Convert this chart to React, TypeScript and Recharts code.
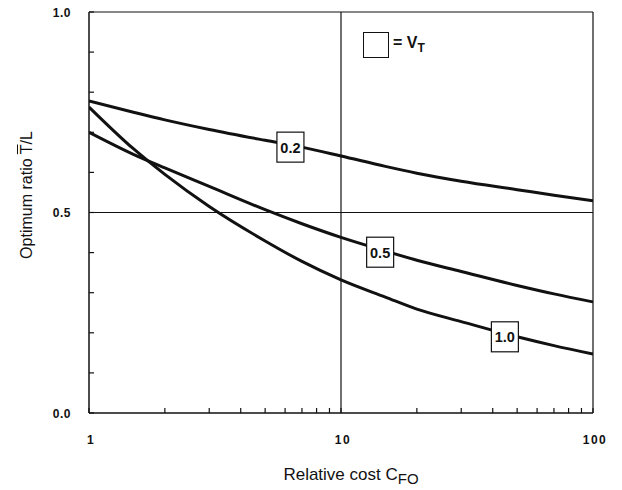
import {
  LineChart,
  Line,
  XAxis,
  YAxis,
  ReferenceLine,
  ReferenceDot,
} from "recharts";

// relative cost C_FO (log axis)
const costs = [1, 1.5, 2, 3, 5, 7, 10, 15, 20, 30, 50, 70, 100];

// optimum ratio T/L for each V_T
const vt02 = [0.778, 0.75, 0.731, 0.707, 0.68, 0.663, 0.641, 0.615, 0.598, 0.578, 0.557, 0.543, 0.529];
const vt05 = [0.7, 0.645, 0.611, 0.565, 0.507, 0.472, 0.438, 0.404, 0.381, 0.353, 0.318, 0.297, 0.277];
const vt10 = [0.763, 0.659, 0.595, 0.515, 0.429, 0.378, 0.332, 0.289, 0.259, 0.228, 0.19, 0.168, 0.147];

// curve label boxes
const boxText = ["0.2", "0.5", "1.0"];
const boxX = [6.3, 14.3, 44.7];
const boxY = [0.663, 0.401, 0.19];

const xTicks = [1, 2, 3, 4, 5, 6, 7, 8, 9, 10, 20, 30, 40, 50, 60, 70, 80, 90, 100];
const xLabels = [1, 10, 100];
const yTicks = [0, 0.1, 0.2, 0.3, 0.4, 0.5, 0.6, 0.7, 0.8, 0.9, 1];
const yLabels = [0, 0.5, 1];

const data = costs.map((c, i) => ({
  x: c,
  v02: vt02[i],
  v05: vt05[i],
  v10: vt10[i],
}));

const FONT = "'Liberation Sans', Arial, sans-serif";
const INK = "#111";

const XTick = (props: any) => {
  const { x, y, payload } = props;
  const v = payload.value;
  return (
    <g>
      <line x1={x} y1={y} x2={x} y2={y - 5} stroke={INK} strokeWidth={1.2} />
      {xLabels.includes(v) && (
        <text
          x={x + 2}
          y={y + 31}
          textAnchor="middle"
          fontFamily={FONT}
          fontWeight="bold"
          fontSize={12}
          letterSpacing={1.5}
          fill={INK}
        >
          {v}
        </text>
      )}
    </g>
  );
};

const YTick = (props: any) => {
  const { x, y, payload } = props;
  const v = payload.value;
  const show = yLabels.some((l) => Math.abs(l - v) < 1e-6);
  return (
    <g>
      <line x1={x} y1={y} x2={x + 5} y2={y} stroke={INK} strokeWidth={1.2} />
      {show && (
        <text
          x={x - 18}
          y={y + 4.5}
          textAnchor="end"
          fontFamily={FONT}
          fontWeight="bold"
          fontSize={12}
          letterSpacing={0.5}
          fill={INK}
        >
          {v.toFixed(1)}
        </text>
      )}
    </g>
  );
};

const labelBox = (text: string) => (props: any) => {
  const { cx, cy } = props;
  return (
    <g>
      <rect x={cx - 13.5} y={cy - 15} width={27} height={30} fill="#fff" stroke={INK} strokeWidth={1.2} />
      <text x={cx} y={cy + 5.5} textAnchor="middle" fontFamily={FONT} fontWeight="bold" fontSize={14.5} fill={INK}>
        {text}
      </text>
    </g>
  );
};

export default function App() {
  return (
    <div style={{ position: "relative", width: 622, height: 490, background: "#fff", fontFamily: FONT }}>
      <style>{"body{margin:0}"}</style>

      <LineChart width={622} height={490} data={data} margin={{ top: 12, right: 29, bottom: 0, left: 0 }}>
        <XAxis
          dataKey="x"
          type="number"
          scale="log"
          domain={[1, 100]}
          ticks={xTicks}
          interval={0}
          height={77}
          tickSize={0}
          tickMargin={0}
          tick={<XTick />}
          axisLine={{ stroke: INK, strokeWidth: 1.5 }}
          allowDataOverflow
        />
        <YAxis
          type="number"
          domain={[0, 1]}
          ticks={yTicks}
          interval={0}
          width={89}
          tickSize={0}
          tickMargin={0}
          tick={<YTick />}
          axisLine={{ stroke: INK, strokeWidth: 1.5 }}
        />

        {/* frame + grid at 10 and 0.5 */}
        <ReferenceLine y={1} stroke={INK} strokeWidth={1.2} />
        <ReferenceLine x={100} stroke={INK} strokeWidth={1.2} />
        <ReferenceLine x={10} stroke={INK} strokeWidth={1.2} />
        <ReferenceLine y={0.5} stroke={INK} strokeWidth={1.2} />

        <Line dataKey="v02" type="monotone" stroke={INK} strokeWidth={3} dot={false} isAnimationActive={false} />
        <Line dataKey="v05" type="monotone" stroke={INK} strokeWidth={3} dot={false} isAnimationActive={false} />
        <Line dataKey="v10" type="monotone" stroke={INK} strokeWidth={3} dot={false} isAnimationActive={false} />

        {boxText.map((t, i) => (
          <ReferenceDot key={t} x={boxX[i]} y={boxY[i]} r={1} shape={labelBox(t)} />
        ))}
      </LineChart>

      {/* legend */}
      <div style={{ position: "absolute", left: 363, top: 32, width: 24, height: 24, border: `1.5px solid ${INK}` }} />
      <div style={{ position: "absolute", left: 393, top: 33, fontSize: 16, fontWeight: "bold", color: INK, lineHeight: "20px" }}>
        = V<sub style={{ fontSize: 12, verticalAlign: -4 }}>T</sub>
      </div>

      {/* axis titles */}
      <div style={{ position: "absolute", left: 201, top: 465, width: 300, textAlign: "center", fontSize: 17, color: INK, lineHeight: "20px" }}>
        Relative cost C<sub style={{ fontSize: 15, verticalAlign: -4 }}>FO</sub>
      </div>
      <div
        style={{
          position: "absolute",
          left: 27 - 150,
          top: 195 - 10,
          width: 300,
          height: 20,
          lineHeight: "20px",
          textAlign: "center",
          fontSize: 16,
          color: INK,
          transform: "rotate(-90deg)",
        }}
      >
        Optimum ratio <span style={{ textDecoration: "overline" }}>T</span>/L
      </div>
    </div>
  );
}
